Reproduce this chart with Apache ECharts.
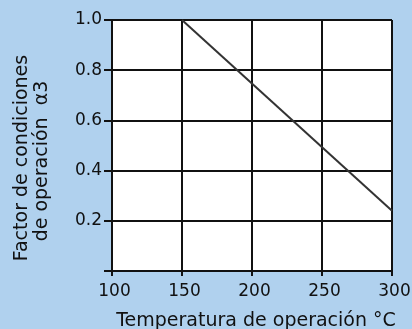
<!DOCTYPE html>
<html><head><meta charset="utf-8">
<script src="https://cdn.jsdelivr.net/npm/echarts@6/dist/echarts.min.js"></script>
<style>html,body{margin:0;padding:0;background:#b0d1ee;}#c{width:412px;height:329px;}</style>
</head><body><div id="c"></div>
<script>
const temps = [150, 300];
const factor = [1.0, 0.24];
const xTicks = [100, 150, 200, 250, 300];
const yTicks = [0.2, 0.4, 0.6, 0.8, 1.0];
const xTitle = 'Temperatura de operación °C';
const yTitle1 = 'Factor de condiciones';
const yTitle2 = 'de operación  α3';

const font = 'DejaVu Sans';
const chart = echarts.init(document.getElementById('c'));
chart.setOption({
  backgroundColor: '#b0d1ee',
  animation: false,
  grid: {left: 112, right: 20, top: 20, bottom: 58, show: true, backgroundColor: '#ffffff', borderWidth: 0,
    containLabel: false, outerBoundsMode: 'none'},
  xAxis: {
    type: 'value', min: 100, max: 300, interval: 50,
    axisLine: {show: true, lineStyle: {color: '#111', width: 2}},
    axisTick: {show: true, length: 5, lineStyle: {color: '#111', width: 2}},
    splitLine: {show: true, lineStyle: {color: '#111', width: 2}},
    axisLabel: {color: '#111', fontFamily: font, fontSize: 17, margin: 12, padding: [0, 0, 0, 5],
      hideOverlap: false,
      formatter: v => xTicks.includes(v) ? String(v) : ''}
  },
  yAxis: {
    type: 'value', min: 0, max: 1.0, interval: 0.2,
    axisLine: {show: true, lineStyle: {color: '#111', width: 2}},
    axisTick: {show: true, length: 8, lineStyle: {color: '#111', width: 2}},
    splitLine: {show: true, lineStyle: {color: '#111', width: 2}},
    axisLabel: {color: '#111', fontFamily: font, fontSize: 17, margin: 10,
      formatter: v => { const m = yTicks.find(t => Math.abs(t - v) < 1e-6); return m !== undefined ? m.toFixed(1) : ''; }}
  },
  graphic: [
    {type: 'text', x: 256, y: 321,
      style: {text: xTitle, fontFamily: font, fontSize: 19, fill: '#111', align: 'center', verticalAlign: 'middle'}},
    {type: 'text', rotation: Math.PI/2, x: 22, y: 158,
      style: {text: yTitle1, fontFamily: font, fontSize: 19, fill: '#111', align: 'center', verticalAlign: 'middle'}},
    {type: 'text', rotation: Math.PI/2, x: 42, y: 161,
      style: {text: yTitle2, fontFamily: font, fontSize: 19, fill: '#111', align: 'center', verticalAlign: 'middle'}}
  ],
  series: [{
    type: 'line', data: temps.map((t, i) => [t, factor[i]]),
    symbol: 'none', lineStyle: {color: '#333', width: 2}
  }]
});
</script></body></html>
